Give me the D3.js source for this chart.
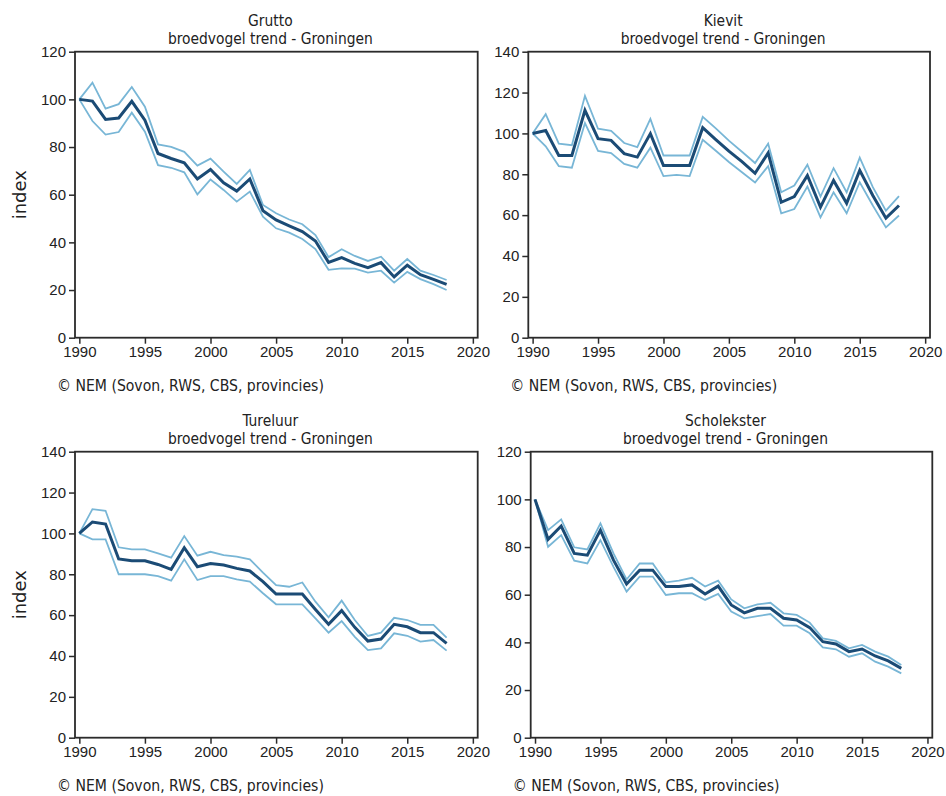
<!DOCTYPE html>
<html>
<head>
<meta charset="utf-8">
<script src="https://cdn.jsdelivr.net/npm/d3@7"></script>
<style>
  html, body { margin: 0; padding: 0; background: #fff; }
  svg { display: block; }
</style>
</head>
<body>
<script>
// ---- data ----
const years = d3.range(1990, 2019);
const xTicks = [1990, 1995, 2000, 2005, 2010, 2015, 2020];

const gruttoIndex = [100, 99.3, 91.6, 92.2, 99.2, 91.3, 77.3, 75.2, 73.4, 66.6, 70.6, 65.0, 61.5, 66.6, 53.3, 49.4, 46.9, 44.5, 40.6, 31.6, 33.6, 31.2, 29.4, 31.5, 25.5, 30.4, 26.4, 24.5, 22.4];
const gruttoUpper = [100, 107, 96.1, 98.0, 105.2, 96.9, 81.1, 80.1, 78.0, 72.2, 75.1, 69.7, 64.5, 70.4, 55.7, 52.2, 49.6, 47.6, 43.1, 33.8, 37.1, 34.3, 32.2, 34.0, 28.1, 33.0, 28.1, 26.3, 24.2];
const gruttoLower = [100, 90.9, 85.2, 86.3, 94.4, 86.4, 72.4, 71.3, 69.4, 60.1, 66.4, 62.0, 57.1, 61.3, 50.8, 45.9, 44.1, 41.4, 37.2, 28.5, 29.1, 29.0, 27.3, 28.1, 23.1, 27.6, 24.6, 22.5, 20.0];

const kievitIndex = [100, 101.4, 89.2, 89.2, 111.3, 97.4, 96.6, 90.1, 88.4, 99.9, 84.3, 84.3, 84.3, 102.8, 97, 91.3, 86.2, 80.5, 90.5, 66.3, 69.1, 79.4, 63.9, 77.0, 65.8, 81.9, 69.6, 58.5, 64.7];
const kievitUpper = [100, 109.4, 95.0, 94.2, 118.4, 102.3, 101.2, 95.3, 93.3, 107.1, 89.2, 89.2, 89.2, 108.1, 102.5, 96.5, 91, 85.5, 95.0, 71.2, 74.5, 84.7, 69.1, 83.0, 71.2, 88.1, 73.7, 62.2, 69.3];
const kievitLower = [100, 93.7, 84.0, 83.2, 105.1, 91.4, 90.4, 85.1, 83.2, 93.0, 79.1, 79.7, 79.1, 96.9, 91.5, 86, 81, 76, 84, 60.9, 63.0, 74.0, 58.9, 71.2, 60.9, 76.1, 64.7, 54.0, 59.8];

const tureluurIndex = [100, 105.6, 104.6, 87.5, 86.6, 86.6, 84.8, 82.4, 93.0, 83.7, 85.3, 84.5, 82.9, 81.6, 76.4, 70.3, 70.3, 70.3, 62.8, 55.5, 62.2, 54.0, 47.3, 48.3, 55.5, 54.3, 51.4, 51.4, 46.2];
const tureluurUpper = [100, 111.9, 111.1, 93.2, 92.2, 92.2, 90.2, 88.1, 98.7, 89.1, 91.0, 89.4, 88.6, 87.3, 80.8, 74.7, 73.9, 76.0, 66.6, 58.9, 67.1, 57.6, 49.8, 51.4, 58.7, 57.6, 55.2, 55.2, 49.0];
const tureluurLower = [100, 97.1, 97.1, 80.0, 80.0, 80.0, 79.1, 76.9, 87.3, 77.2, 79.1, 79.1, 77.5, 76.4, 70.7, 65.3, 65.3, 65.3, 58.4, 51.4, 57.1, 49.4, 42.9, 43.7, 51.1, 49.9, 47.0, 47.8, 42.6];

const scholeksterIndex = [100, 83.2, 88.8, 77.3, 76.6, 87.1, 74.5, 64.5, 70.3, 70.3, 63.4, 63.4, 64.1, 60.3, 63.6, 55.7, 52.4, 54.3, 54.3, 50.1, 49.4, 46.2, 40.3, 39.3, 36.1, 37.2, 34.3, 32.2, 29.1];
const scholeksterUpper = [100, 87.1, 91.6, 79.9, 79.0, 89.9, 77.3, 66.4, 73.1, 73.1, 65.2, 65.9, 67.1, 63.4, 65.9, 58.0, 54.3, 55.9, 56.6, 52.2, 51.5, 48.3, 41.7, 40.6, 37.5, 38.9, 36.1, 34.0, 30.5];
const scholeksterLower = [100, 80.1, 85.0, 74.3, 73.1, 82.9, 71.7, 61.3, 67.6, 67.6, 59.9, 60.6, 60.6, 57.8, 60.3, 52.9, 50.1, 51.0, 51.9, 47.0, 47.0, 43.8, 37.9, 37.1, 34.0, 35.4, 31.9, 29.8, 27.0];

const speciesNames = ["Grutto", "Kievit", "Tureluur", "Scholekster"];
const yMaxima = [120, 140, 140, 120];
const subtitle = "broedvogel trend - Groningen";
const footer = "\u00A9 NEM (Sovon, RWS, CBS, provincies)";
const yLabel = "index";

// ---- layout ----
const W = 946, H = 796;
const layouts = [
  { left: 75,    right: 477.7, top: 51.7,  bottom: 337.7, index: true },
  { left: 528.3, right: 930,   top: 51.7,  bottom: 337.7, index: false },
  { left: 75,    right: 477.7, top: 451.7, bottom: 737.7, index: true },
  { left: 530.7, right: 932.3, top: 451.7, bottom: 737.7, index: false }
];
const seriesSets = [
  [gruttoIndex, gruttoUpper, gruttoLower],
  [kievitIndex, kievitUpper, kievitLower],
  [tureluurIndex, tureluurUpper, tureluurLower],
  [scholeksterIndex, scholeksterUpper, scholeksterLower]
];

const DARK = "#1b4b75";
const LIGHT = "#78b6d6";
const AXIS = "#2b2b2b";
const TEXT = "#222222";
const titleFont = "'DejaVu Sans Condensed', 'DejaVu Sans', sans-serif";
const tickFont = "'Liberation Sans', Arial, sans-serif";

const svg = d3.select("body").append("svg")
  .attr("width", W).attr("height", H)
  .attr("viewBox", `0 0 ${W} ${H}`);
svg.append("rect").attr("width", W).attr("height", H).attr("fill", "#fff");

layouts.forEach((L, i) => {
  const g = svg.append("g");
  const x = d3.scaleLinear().domain([1989.67, 2020.37]).range([L.left, L.right]);
  const y = d3.scaleLinear().domain([0, yMaxima[i]]).range([L.bottom, L.top]);

  // axes
  const xAxis = d3.axisBottom(x).tickValues(xTicks).tickFormat(d3.format("d"))
    .tickSize(6).tickSizeOuter(0).tickPadding(3);
  const yAxis = d3.axisLeft(y).tickValues(d3.range(0, yMaxima[i] + 1, 20))
    .tickSize(6).tickSizeOuter(0).tickPadding(3);

  const gx = g.append("g").attr("transform", `translate(0,${L.bottom})`).call(xAxis);
  const gy = g.append("g").attr("transform", `translate(${L.left},0)`).call(yAxis);
  [gx, gy].forEach(a => {
    a.select(".domain").remove();
    a.selectAll(".tick line").attr("stroke", AXIS).attr("stroke-width", 1.5);
    a.selectAll(".tick text").attr("fill", TEXT)
      .style("font-family", tickFont).style("font-size", "15px");
  });

  // frame
  g.append("rect")
    .attr("x", L.left).attr("y", L.top)
    .attr("width", L.right - L.left).attr("height", L.bottom - L.top)
    .attr("fill", "none").attr("stroke", AXIS).attr("stroke-width", 1.8);

  // lines
  const line = d3.line().x((d, k) => x(years[k])).y(d => y(d));
  const [mid, up, lo] = seriesSets[i];
  [up, lo].forEach(s => {
    g.append("path").datum(s).attr("d", line)
      .attr("fill", "none").attr("stroke", LIGHT).attr("stroke-width", 1.8)
      .attr("stroke-linejoin", "miter");
  });
  g.append("path").datum(mid).attr("d", line)
    .attr("fill", "none").attr("stroke", DARK).attr("stroke-width", 3)
    .attr("stroke-linejoin", "miter");

  // titles
  const cx = (L.left + L.right) / 2 - 6;
  g.append("text").attr("x", cx).attr("y", L.top - 26)
    .attr("text-anchor", "middle").attr("fill", TEXT)
    .style("font-family", titleFont).style("font-size", "15.4px")
    .text(speciesNames[i]);
  g.append("text").attr("x", cx).attr("y", L.top - 7.7)
    .attr("text-anchor", "middle").attr("fill", TEXT)
    .style("font-family", titleFont).style("font-size", "15.4px")
    .text(subtitle);

  // footer
  g.append("text").attr("x", L.left - 18).attr("y", L.bottom + 53)
    .attr("fill", TEXT)
    .style("font-family", titleFont).style("font-size", "15.6px")
    .text(footer);

  // y label
  if (L.index) {
    g.append("text")
      .attr("transform", `translate(19,${(L.top + L.bottom) / 2}) rotate(-90)`)
      .attr("text-anchor", "middle").attr("dominant-baseline", "central")
      .attr("fill", TEXT)
      .style("font-family", "'DejaVu Sans', sans-serif").style("font-size", "18px")
      .text(yLabel);
  }
});
</script>
</body>
</html>
